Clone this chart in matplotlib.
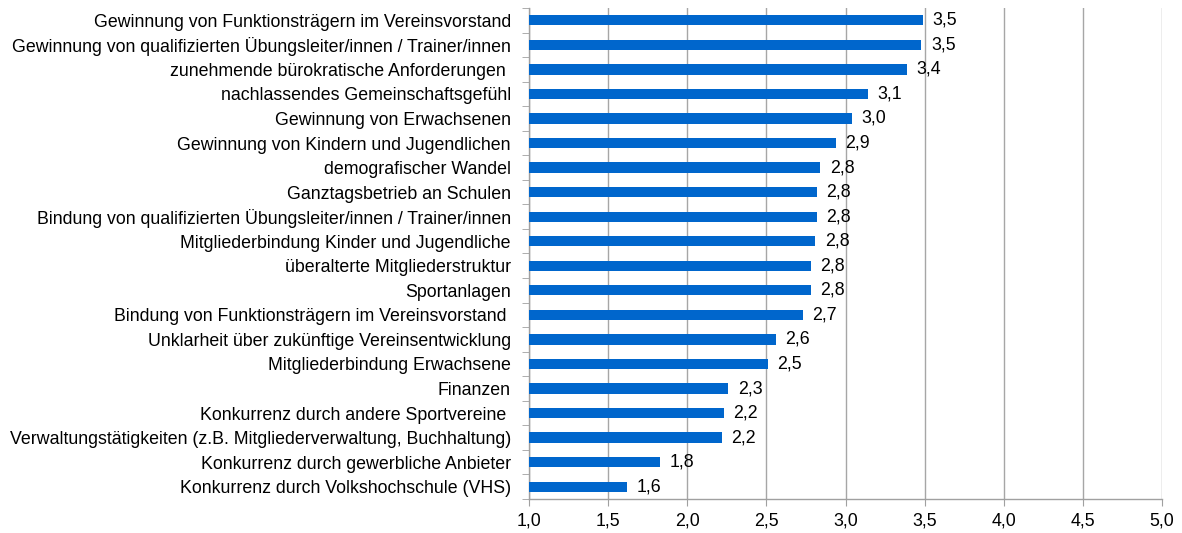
import matplotlib.pyplot as plt
import numpy as np

plt.rcParams['font.family'] = ['Liberation Sans', 'DejaVu Sans']

labels = [
    "Gewinnung von Funktionsträgern im Vereinsvorstand",
    "Gewinnung von qualifizierten Übungsleiter/innen / Trainer/innen",
    "zunehmende bürokratische Anforderungen ",
    "nachlassendes Gemeinschaftsgefühl",
    "Gewinnung von Erwachsenen",
    "Gewinnung von Kindern und Jugendlichen",
    "demografischer Wandel",
    "Ganztagsbetrieb an Schulen",
    "Bindung von qualifizierten Übungsleiter/innen / Trainer/innen",
    "Mitgliederbindung Kinder und Jugendliche",
    "überalterte Mitgliederstruktur",
    "Sportanlagen",
    "Bindung von Funktionsträgern im Vereinsvorstand ",
    "Unklarheit über zukünftige Vereinsentwicklung",
    "Mitgliederbindung Erwachsene",
    "Finanzen",
    "Konkurrenz durch andere Sportvereine ",
    "Verwaltungstätigkeiten (z.B. Mitgliederverwaltung, Buchhaltung)",
    "Konkurrenz durch gewerbliche Anbieter",
    "Konkurrenz durch Volkshochschule (VHS)",
]
values = [3.49, 3.48, 3.39, 3.14, 3.04, 2.94, 2.84, 2.82, 2.82, 2.81,
          2.78, 2.78, 2.73, 2.56, 2.51, 2.26, 2.23, 2.22, 1.83, 1.62]
xticks = [1.0, 1.5, 2.0, 2.5, 3.0, 3.5, 4.0, 4.5, 5.0]

fs = 12.8
fig = plt.figure(figsize=(11.82, 5.33), dpi=100)
ax = fig.add_axes([529 / 1182, 34 / 533, 633 / 1182, 491 / 533])

n = len(labels)
y = np.arange(n)
ax.barh(y, np.array(values) - 1.0, left=1.0, height=0.42, color='#0066CC', zorder=3)

for yi, v in zip(y, values):
    ax.text(v + 0.06, yi, f"{v:.1f}".replace('.', ','), va='center', ha='left',
            fontsize=fs, color='black', zorder=4)

ax.set_xlim(1.0, 5.0)
ax.set_ylim(n - 0.5, -0.5)
ax.set_xticks(xticks)
ax.set_xticklabels([f"{t:.1f}".replace('.', ',') for t in xticks], fontsize=fs)
ax.set_yticks(y)
ax.set_yticklabels(labels, fontsize=fs)
ax.tick_params(axis='y', length=0, pad=13)
ax.set_yticks(np.arange(-0.5, n, 1.0), minor=True)
ax.tick_params(axis='y', which='minor', length=5, color='#A0A0A0', direction='out')
ax.tick_params(axis='x', length=5, color='#A0A0A0', direction='out', pad=5)

ax.grid(axis='x', color='#A6A6A6', linewidth=1.0, zorder=0)
for s in ['top', 'right']:
    ax.spines[s].set_visible(False)
for s in ['left', 'bottom']:
    ax.spines[s].set_color('#A0A0A0')
    ax.spines[s].set_linewidth(1.0)

fig.savefig('out.png', dpi=100)
